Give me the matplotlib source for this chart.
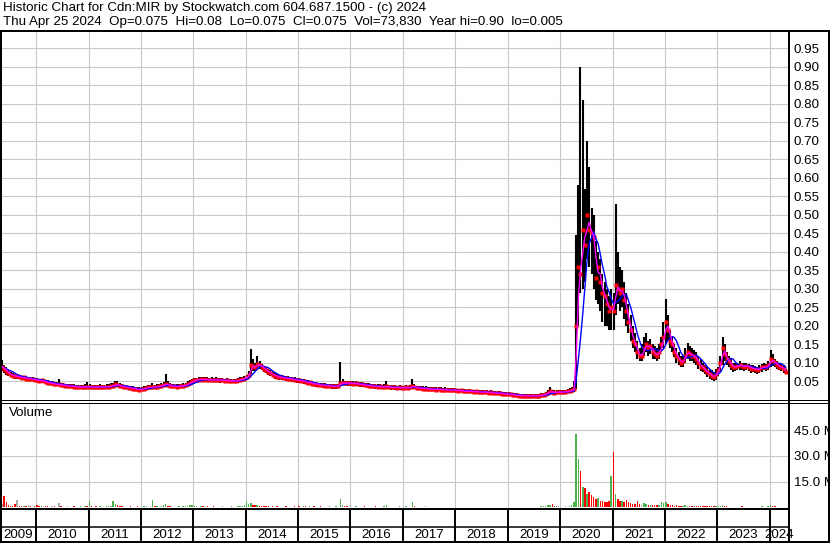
import matplotlib
matplotlib.use('Agg')
import matplotlib.pyplot as plt
import numpy as np
import pandas as pd

plt.rcParams['font.family'] = ['Liberation Sans', 'DejaVu Sans']

# ---------------- data (semi-monthly) ----------------
dates = pd.date_range('2009-05-01', '2024-04-15', freq='SMS')

close_2009 = [0.090, 0.084, 0.078, 0.072, 0.068, 0.066, 0.064, 0.064, 0.062, 0.060, 0.061, 0.058, 0.058, 0.057, 0.056, 0.055]
high_2009 = [0.108, 0.095, 0.088, 0.080, 0.075, 0.072, 0.070, 0.068, 0.067, 0.066, 0.065, 0.064, 0.063, 0.062, 0.062, 0.060]
low_2009 = [0.078, 0.074, 0.068, 0.064, 0.061, 0.060, 0.058, 0.057, 0.056, 0.055, 0.054, 0.053, 0.053, 0.052, 0.051, 0.050]
vol_2009 = [2.0, 6.8, 3.0, 1.2, 1.0, 0.8, 2.0, 4.2, 1.0, 0.8, 0.6, 0.8, 1.5, 0.6, 0.5, 1.0]

close_2010 = [0.054, 0.052, 0.053, 0.050, 0.049, 0.047, 0.045, 0.045, 0.043, 0.042, 0.042, 0.040, 0.041, 0.038, 0.038, 0.037, 0.038, 0.036, 0.036, 0.035, 0.036, 0.035, 0.036, 0.035]
high_2010 = [0.060, 0.058, 0.058, 0.056, 0.055, 0.053, 0.051, 0.050, 0.049, 0.048, 0.058, 0.046, 0.046, 0.044, 0.043, 0.043, 0.043, 0.042, 0.041, 0.041, 0.041, 0.040, 0.042, 0.049]
low_2010 = [0.048, 0.047, 0.047, 0.045, 0.044, 0.042, 0.041, 0.040, 0.039, 0.038, 0.037, 0.036, 0.036, 0.034, 0.034, 0.033, 0.033, 0.032, 0.032, 0.031, 0.031, 0.031, 0.032, 0.031]
vol_2010 = [1.5, 0.6, 0.8, 0.5, 0.6, 0.7, 0.5, 0.8, 0.6, 0.5, 2.5, 0.6, 0.5, 0.4, 0.6, 0.5, 0.4, 0.7, 0.5, 0.4, 0.6, 0.5, 0.6, 1.0]

close_2011 = [0.036, 0.035, 0.035, 0.034, 0.035, 0.036, 0.035, 0.035, 0.036, 0.036, 0.038, 0.039, 0.042, 0.041, 0.038, 0.037, 0.035, 0.034, 0.033, 0.032, 0.031, 0.030, 0.029, 0.028]
high_2011 = [0.043, 0.041, 0.040, 0.040, 0.041, 0.042, 0.041, 0.041, 0.042, 0.042, 0.045, 0.047, 0.052, 0.050, 0.045, 0.043, 0.041, 0.040, 0.039, 0.038, 0.037, 0.036, 0.035, 0.034]
low_2011 = [0.031, 0.031, 0.031, 0.030, 0.031, 0.032, 0.031, 0.031, 0.032, 0.032, 0.033, 0.034, 0.036, 0.035, 0.033, 0.032, 0.031, 0.030, 0.029, 0.028, 0.027, 0.026, 0.024, 0.023]
vol_2011 = [4.0, 0.6, 0.5, 0.7, 0.5, 0.6, 0.5, 0.5, 0.8, 0.6, 1.0, 3.5, 2.0, 1.5, 0.8, 0.6, 0.5, 0.4, 0.5, 0.6, 0.4, 0.5, 0.6, 0.5]

close_2012 = [0.029, 0.031, 0.033, 0.034, 0.034, 0.036, 0.035, 0.036, 0.037, 0.038, 0.040, 0.044, 0.041, 0.038, 0.037, 0.037, 0.036, 0.038, 0.037, 0.039, 0.040, 0.043, 0.047, 0.050]
high_2012 = [0.035, 0.037, 0.039, 0.040, 0.040, 0.046, 0.041, 0.042, 0.043, 0.045, 0.048, 0.069, 0.050, 0.045, 0.043, 0.043, 0.042, 0.044, 0.043, 0.045, 0.046, 0.050, 0.054, 0.057]
low_2012 = [0.024, 0.026, 0.028, 0.029, 0.029, 0.030, 0.030, 0.031, 0.032, 0.033, 0.034, 0.036, 0.035, 0.033, 0.032, 0.032, 0.031, 0.032, 0.032, 0.033, 0.034, 0.037, 0.041, 0.044]
vol_2012 = [0.5, 0.6, 0.7, 0.5, 0.6, 4.6, 0.7, 0.6, 0.5, 0.8, 1.2, 2.0, 1.0, 0.6, 0.5, 0.4, 0.5, 0.8, 0.5, 0.6, 0.7, 1.0, 1.2, 1.5]

close_2013 = [0.053, 0.054, 0.055, 0.056, 0.055, 0.056, 0.055, 0.054, 0.055, 0.054, 0.055, 0.054, 0.053, 0.054, 0.052, 0.053, 0.051, 0.052, 0.051, 0.052, 0.053, 0.055, 0.056, 0.058]
high_2013 = [0.059, 0.060, 0.061, 0.062, 0.061, 0.062, 0.061, 0.060, 0.061, 0.060, 0.061, 0.060, 0.059, 0.060, 0.058, 0.059, 0.057, 0.058, 0.057, 0.058, 0.059, 0.061, 0.062, 0.066]
low_2013 = [0.047, 0.048, 0.049, 0.050, 0.049, 0.050, 0.049, 0.048, 0.049, 0.048, 0.049, 0.048, 0.047, 0.048, 0.046, 0.047, 0.045, 0.046, 0.045, 0.046, 0.047, 0.049, 0.050, 0.052]
vol_2013 = [0.6, 0.8, 0.5, 0.6, 0.7, 0.5, 0.6, 0.5, 0.5, 0.6, 0.5, 0.4, 0.5, 0.6, 0.5, 0.4, 0.5, 0.6, 0.5, 0.5, 0.6, 0.8, 1.0, 1.2]

close_2014 = [0.062, 0.068, 0.095, 0.090, 0.088, 0.098, 0.094, 0.090, 0.085, 0.080, 0.076, 0.072, 0.068, 0.066, 0.063, 0.062, 0.061, 0.060, 0.059, 0.058, 0.057, 0.056, 0.055, 0.054]
high_2014 = [0.068, 0.078, 0.138, 0.110, 0.100, 0.118, 0.105, 0.098, 0.092, 0.088, 0.084, 0.080, 0.075, 0.072, 0.070, 0.068, 0.067, 0.066, 0.065, 0.064, 0.063, 0.062, 0.061, 0.060]
low_2014 = [0.055, 0.060, 0.070, 0.078, 0.078, 0.082, 0.084, 0.080, 0.076, 0.072, 0.068, 0.064, 0.061, 0.058, 0.056, 0.055, 0.054, 0.053, 0.052, 0.051, 0.050, 0.049, 0.048, 0.047]
vol_2014 = [3.0, 2.0, 2.5, 1.5, 1.2, 1.5, 1.0, 0.8, 0.7, 0.6, 0.8, 0.5, 0.6, 0.5, 0.6, 0.5, 0.4, 0.5, 0.6, 0.5, 0.4, 0.5, 0.6, 0.5]

close_2015 = [0.053, 0.051, 0.052, 0.048, 0.047, 0.048, 0.044, 0.043, 0.044, 0.041, 0.040, 0.041, 0.039, 0.038, 0.039, 0.037, 0.037, 0.038, 0.037, 0.046, 0.047, 0.046, 0.045, 0.046]
high_2015 = [0.059, 0.057, 0.056, 0.054, 0.053, 0.052, 0.050, 0.049, 0.048, 0.047, 0.046, 0.045, 0.045, 0.044, 0.044, 0.043, 0.043, 0.043, 0.044, 0.104, 0.056, 0.052, 0.051, 0.051]
low_2015 = [0.047, 0.045, 0.044, 0.042, 0.041, 0.040, 0.038, 0.037, 0.036, 0.035, 0.034, 0.033, 0.033, 0.032, 0.032, 0.031, 0.031, 0.031, 0.032, 0.036, 0.040, 0.040, 0.039, 0.039]
vol_2015 = [0.6, 0.5, 0.8, 0.6, 0.5, 0.7, 0.5, 0.6, 0.5, 0.4, 0.6, 0.5, 0.4, 0.5, 0.6, 0.4, 0.5, 0.6, 0.5, 5.2, 1.5, 0.8, 0.6, 0.5]

close_2016 = [0.045, 0.044, 0.045, 0.043, 0.042, 0.042, 0.040, 0.040, 0.039, 0.038, 0.038, 0.037, 0.036, 0.037, 0.035, 0.036, 0.037, 0.035, 0.034, 0.035, 0.034, 0.033, 0.034, 0.033]
high_2016 = [0.051, 0.050, 0.051, 0.049, 0.048, 0.048, 0.046, 0.046, 0.045, 0.044, 0.044, 0.043, 0.042, 0.043, 0.041, 0.042, 0.052, 0.041, 0.040, 0.041, 0.040, 0.039, 0.040, 0.039]
low_2016 = [0.039, 0.038, 0.039, 0.037, 0.036, 0.036, 0.034, 0.034, 0.033, 0.032, 0.032, 0.031, 0.030, 0.031, 0.029, 0.030, 0.031, 0.029, 0.028, 0.029, 0.028, 0.027, 0.028, 0.027]
vol_2016 = [0.5, 0.4, 0.6, 0.5, 0.4, 0.5, 0.6, 0.4, 0.5, 0.4, 0.5, 0.6, 0.4, 0.5, 0.4, 0.6, 1.5, 0.5, 0.4, 0.5, 0.4, 0.5, 0.6, 0.4]

close_2017 = [0.033, 0.034, 0.033, 0.034, 0.038, 0.035, 0.033, 0.032, 0.032, 0.031, 0.031, 0.030, 0.030, 0.029, 0.030, 0.028, 0.029, 0.028, 0.027, 0.028, 0.027, 0.026, 0.027, 0.026]
high_2017 = [0.039, 0.040, 0.039, 0.040, 0.057, 0.043, 0.039, 0.038, 0.038, 0.037, 0.037, 0.036, 0.036, 0.035, 0.036, 0.034, 0.035, 0.034, 0.033, 0.034, 0.033, 0.032, 0.033, 0.032]
low_2017 = [0.028, 0.029, 0.028, 0.029, 0.031, 0.030, 0.028, 0.027, 0.027, 0.026, 0.026, 0.025, 0.025, 0.024, 0.025, 0.023, 0.024, 0.023, 0.022, 0.023, 0.022, 0.021, 0.022, 0.021]
vol_2017 = [0.5, 0.6, 0.4, 0.5, 3.3, 1.0, 0.5, 0.4, 0.5, 0.4, 0.6, 0.4, 0.5, 0.4, 0.5, 0.4, 0.5, 0.4, 0.4, 0.5, 0.4, 0.5, 0.4, 0.5]

close_2018 = [0.026, 0.025, 0.026, 0.024, 0.024, 0.023, 0.024, 0.023, 0.022, 0.023, 0.022, 0.021, 0.022, 0.021, 0.021, 0.020, 0.021, 0.019, 0.019, 0.018, 0.019, 0.017, 0.017, 0.016]
high_2018 = [0.031, 0.030, 0.031, 0.029, 0.029, 0.028, 0.029, 0.028, 0.027, 0.028, 0.027, 0.026, 0.027, 0.026, 0.026, 0.025, 0.026, 0.024, 0.024, 0.023, 0.024, 0.022, 0.022, 0.021]
low_2018 = [0.021, 0.020, 0.021, 0.019, 0.019, 0.018, 0.019, 0.018, 0.017, 0.018, 0.017, 0.016, 0.017, 0.016, 0.016, 0.015, 0.016, 0.014, 0.014, 0.013, 0.014, 0.012, 0.012, 0.011]
vol_2018 = [0.4, 0.5, 0.4, 0.3, 0.5, 0.4, 0.3, 0.4, 0.5, 0.3, 0.4, 0.3, 0.4, 0.5, 0.3, 0.4, 0.3, 0.4, 0.5, 0.4, 0.3, 0.4, 0.5, 0.4]

close_2019 = [0.016, 0.015, 0.014, 0.013, 0.013, 0.012, 0.012, 0.011, 0.012, 0.011, 0.012, 0.011, 0.012, 0.012, 0.011, 0.013, 0.014, 0.016, 0.019, 0.024, 0.021, 0.020, 0.021, 0.021]
high_2019 = [0.021, 0.020, 0.019, 0.018, 0.018, 0.017, 0.017, 0.016, 0.017, 0.016, 0.017, 0.016, 0.017, 0.017, 0.016, 0.018, 0.020, 0.022, 0.026, 0.034, 0.028, 0.026, 0.027, 0.027]
low_2019 = [0.011, 0.010, 0.009, 0.008, 0.008, 0.007, 0.007, 0.006, 0.007, 0.006, 0.007, 0.006, 0.006, 0.006, 0.005, 0.008, 0.009, 0.011, 0.013, 0.016, 0.015, 0.014, 0.015, 0.015]
vol_2019 = [0.4, 0.3, 0.4, 0.3, 0.4, 0.3, 0.4, 0.3, 0.4, 0.3, 0.4, 0.5, 0.4, 0.3, 0.5, 0.6, 0.8, 1.0, 1.2, 1.6, 2.0, 1.0, 0.8, 0.7]

close_2020 = [0.021, 0.022, 0.022, 0.023, 0.024, 0.026, 0.030, 0.200, 0.360, 0.340, 0.460, 0.420, 0.500, 0.460, 0.450, 0.440, 0.330, 0.360, 0.320, 0.290, 0.280, 0.260, 0.240, 0.250]
high_2020 = [0.026, 0.027, 0.028, 0.030, 0.032, 0.035, 0.050, 0.445, 0.580, 0.900, 0.810, 0.570, 0.700, 0.630, 0.520, 0.500, 0.430, 0.400, 0.380, 0.340, 0.320, 0.300, 0.280, 0.300]
low_2020 = [0.016, 0.017, 0.017, 0.018, 0.019, 0.018, 0.022, 0.030, 0.200, 0.290, 0.300, 0.320, 0.380, 0.360, 0.340, 0.300, 0.270, 0.260, 0.240, 0.210, 0.200, 0.200, 0.190, 0.190]
vol_2020 = [0.5, 0.4, 0.6, 0.5, 0.8, 1.5, 3.0, 42.8, 28.0, 21.0, 12.0, 11.5, 8.0, 9.0, 7.0, 6.0, 5.0, 5.6, 4.0, 3.5, 3.0, 3.0, 3.5, 18.5]

close_2021 = [0.240, 0.310, 0.300, 0.290, 0.300, 0.270, 0.240, 0.210, 0.190, 0.160, 0.150, 0.130, 0.120, 0.120, 0.140, 0.150, 0.140, 0.145, 0.130, 0.125, 0.120, 0.130, 0.150, 0.170]
high_2021 = [0.290, 0.530, 0.400, 0.360, 0.350, 0.320, 0.290, 0.260, 0.230, 0.200, 0.180, 0.160, 0.140, 0.150, 0.170, 0.180, 0.160, 0.165, 0.150, 0.145, 0.140, 0.150, 0.170, 0.210]
low_2021 = [0.190, 0.230, 0.260, 0.240, 0.250, 0.220, 0.200, 0.180, 0.160, 0.140, 0.130, 0.110, 0.105, 0.105, 0.120, 0.130, 0.120, 0.125, 0.110, 0.110, 0.105, 0.110, 0.130, 0.140]
vol_2021 = [32.0, 8.0, 5.0, 4.0, 3.5, 3.0, 4.5, 3.0, 2.5, 2.0, 2.0, 3.5, 2.0, 1.5, 2.5, 2.0, 1.5, 1.5, 1.2, 1.5, 1.2, 1.5, 3.0, 2.5]

close_2022 = [0.210, 0.190, 0.160, 0.150, 0.130, 0.120, 0.110, 0.100, 0.105, 0.120, 0.130, 0.125, 0.120, 0.120, 0.110, 0.100, 0.090, 0.088, 0.080, 0.075, 0.070, 0.065, 0.062, 0.070]
high_2022 = [0.273, 0.230, 0.190, 0.170, 0.150, 0.140, 0.130, 0.120, 0.120, 0.140, 0.155, 0.145, 0.140, 0.135, 0.130, 0.120, 0.110, 0.100, 0.095, 0.090, 0.085, 0.080, 0.075, 0.085]
low_2022 = [0.150, 0.160, 0.140, 0.130, 0.115, 0.100, 0.095, 0.088, 0.090, 0.100, 0.110, 0.105, 0.105, 0.100, 0.095, 0.085, 0.078, 0.075, 0.070, 0.062, 0.058, 0.055, 0.050, 0.055]
vol_2022 = [3.0, 2.0, 1.5, 1.2, 1.0, 1.5, 1.0, 0.8, 1.0, 1.2, 0.9, 0.8, 0.8, 0.7, 0.8, 0.6, 0.7, 0.6, 0.8, 0.6, 0.7, 0.8, 0.6, 0.7]

close_2023 = [0.080, 0.100, 0.140, 0.125, 0.110, 0.105, 0.095, 0.088, 0.090, 0.092, 0.095, 0.092, 0.090, 0.093, 0.090, 0.085, 0.086, 0.083, 0.082, 0.085, 0.088, 0.090, 0.088, 0.095]
high_2023 = [0.090, 0.120, 0.170, 0.150, 0.130, 0.120, 0.110, 0.100, 0.100, 0.100, 0.105, 0.100, 0.100, 0.100, 0.098, 0.095, 0.095, 0.092, 0.090, 0.095, 0.098, 0.100, 0.098, 0.105]
low_2023 = [0.065, 0.075, 0.095, 0.105, 0.095, 0.090, 0.080, 0.075, 0.078, 0.080, 0.082, 0.080, 0.078, 0.080, 0.078, 0.074, 0.075, 0.072, 0.070, 0.074, 0.077, 0.080, 0.078, 0.082]
vol_2023 = [0.6, 0.8, 1.2, 0.8, 0.6, 0.5, 0.5, 0.4, 0.5, 0.4, 0.5, 0.6, 0.4, 0.5, 0.4, 0.5, 0.4, 0.5, 0.4, 0.5, 0.6, 0.5, 0.4, 1.0]

close_2024 = [0.110, 0.105, 0.100, 0.095, 0.090, 0.088, 0.085, 0.075]
high_2024 = [0.134, 0.125, 0.110, 0.105, 0.100, 0.098, 0.095, 0.085]
low_2024 = [0.090, 0.092, 0.088, 0.085, 0.080, 0.078, 0.072, 0.070]
vol_2024 = [1.5, 0.8, 0.6, 0.5, 0.4, 0.5, 0.4, 0.5]

years = list(range(2009, 2025))
g = globals()
close = np.array(sum([g[f'close_{y}'] for y in years], []))
high = np.array(sum([g[f'high_{y}'] for y in years], []))
low = np.array(sum([g[f'low_{y}'] for y in years], []))
volume = np.array(sum([g[f'vol_{y}'] for y in years], []))

price_ticks = [0.05, 0.10, 0.15, 0.20, 0.25, 0.30, 0.35, 0.40, 0.45, 0.50,
               0.55, 0.60, 0.65, 0.70, 0.75, 0.80, 0.85, 0.90, 0.95]
volume_ticks = [15.0, 30.0, 45.0]
year_labels = [str(y) for y in years]

header1 = "Historic Chart for Cdn:MIR by Stockwatch.com 604.687.1500 - (c) 2024"
header2 = ("Thu Apr 25 2024  Op=0.075  Hi=0.08  Lo=0.075  Cl=0.075  "
           "Vol=73,830  Year hi=0.90  lo=0.005")

# ---------------- derived ----------------
xs = dates + pd.Timedelta(days=7)
s = pd.Series(close)
ma_fast = s.rolling(2, min_periods=1).mean()
ma_slow = s.rolling(6, min_periods=1).mean()
chg = np.sign(np.diff(close, prepend=close[0]))
vcolors = ['#4cb04c' if c > 0 else ('#ff0000' if c < 0 else '#a8a8a8') for c in chg]

# ---------------- layout ----------------
W, H = 830, 543
fig = plt.figure(figsize=(W / 100, H / 100), dpi=100)


def rect(x0, y0, x1, y1):
    return [x0 / W, 1 - y1 / H, (x1 - x0) / W, (y1 - y0) / H]


xmin, xmax = pd.Timestamp('2009-04-24'), pd.Timestamp('2024-05-15')
year_starts = [pd.Timestamp(f'{y}-01-01') for y in range(2010, 2025)]
GRID = '#c8c8c8'
FS = 9.6

axp = fig.add_axes(rect(0, 31, 789, 400))
axv = fig.add_axes(rect(0, 402, 789, 508))
axd = fig.add_axes(rect(0, 508, 789, 542))

for ax in (axp, axv, axd):
    ax.set_xlim(xmin, xmax)
    for sp in ax.spines.values():
        sp.set_visible(False)
    ax.set_xticks(year_starts)
    ax.tick_params(axis='x', length=0, labelbottom=False)

# price panel
axp.set_ylim(0, 0.997)
axp.set_yticks(price_ticks)
axp.set_yticklabels([f'{v:.2f}' for v in price_ticks])
axp.yaxis.tick_right()
axp.tick_params(axis='y', length=0, pad=3.5, labelsize=FS)
axp.grid(True, color=GRID, lw=0.8, zorder=0)
axp.set_axisbelow(True)
axp.vlines(xs, low, high, color='black', lw=1.5, zorder=2)
axp.plot(xs, close, 's', color='red', ms=3.0, mec='none', zorder=3)
axp.plot(xs, ma_slow, color='#0000ff', lw=1.0, zorder=4)
axp.plot(xs, ma_fast, color='#ff00ff', lw=1.0, zorder=5)
axp.text(8, 41, 'Cdn:MIR', transform=None, fontsize=FS, va='center', ha='left')

# volume panel
axv.set_ylim(-0.3, 61.3)
axv.set_yticks(volume_ticks)
axv.set_yticklabels([f'{v:.1f} M' for v in volume_ticks])
axv.yaxis.tick_right()
axv.tick_params(axis='y', length=0, pad=3.5, labelsize=FS)
axv.grid(True, color=GRID, lw=0.8, zorder=0)
axv.set_axisbelow(True)
axv.bar(xs, volume, width=10, color=vcolors, zorder=2)

# date band
axd.set_ylim(34, 0)
axd.set_yticks([])
bounds = [xmin] + year_starts + [xmax]
for b in year_starts:
    axd.axvline(b, color='black', lw=1.4)
for i, lab in enumerate(year_labels):
    mid = bounds[i] + (bounds[i + 1] - bounds[i]) / 2
    axd.text(mid, 26.5, lab, ha='center', va='center', fontsize=FS, zorder=5)

# overlay frame lines (pixel coords)
ov = fig.add_axes([0, 0, 1, 1], zorder=10)
ov.set_xlim(0, W)
ov.set_ylim(H, 0)
ov.axis('off')
ov.patch.set_alpha(0)
k = 0.72
ov.plot([0, W], [31, 31], color='black', lw=2 * k)
ov.plot([1, 1], [31, 542], color='black', lw=2 * k)
ov.plot([789, 789], [31, 542], color='black', lw=2 * k)
ov.plot([828.5, 828.5], [31, 542], color='black', lw=2 * k)
ov.plot([0, W], [400, 400], color='black', lw=1 * k)
ov.plot([0, W], [402.5, 402.5], color='black', lw=1 * k)
ov.plot([0, 789], [509, 509], color='black', lw=2 * k)
ov.plot([0, 789], [527, 527], color='black', lw=1.5 * k)
ov.plot([0, W], [541.5, 541.5], color='black', lw=2 * k)
ov.text(9, 413, 'Volume', fontsize=FS, va='center', ha='left')
ov.text(3, 8.5, header1, fontsize=FS, va='center', ha='left')
ov.text(3, 22.5, header2, fontsize=FS, va='center', ha='left')

fig.savefig('out.png', dpi=100)
